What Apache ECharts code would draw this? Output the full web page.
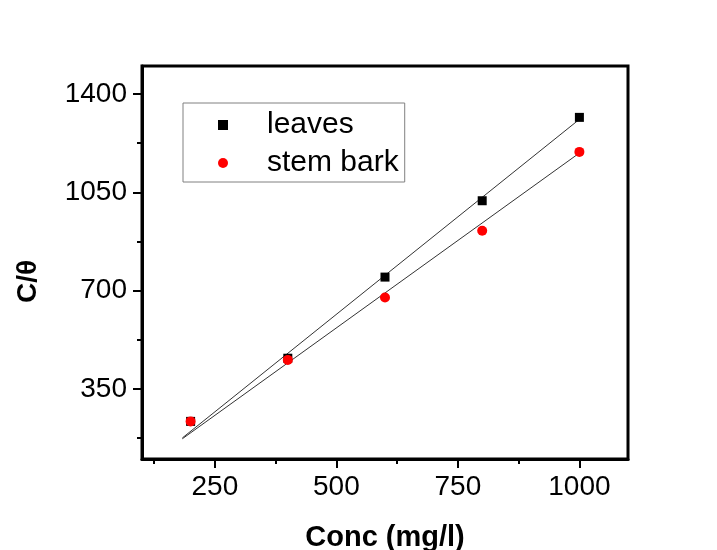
<!DOCTYPE html>
<html><head><meta charset="utf-8">
<script src="https://cdn.jsdelivr.net/npm/echarts@6/dist/echarts.min.js"></script>
<style>html,body{margin:0;padding:0;background:#fff}#c{width:717px;height:550px}</style>
</head><body><div id="c"></div>
<script>
const concentrations = [200, 400, 600, 800, 1000];
const leavesValues = [234, 459, 748, 1020, 1317];
const stemBarkValues = [234, 453, 675, 913, 1194];
const leavesFitX = [183, 1000];
const leavesFitY = [175, 1310];
const stemFitX = [183, 1000];
const stemFitY = [172, 1190];
const xMajorTicks = [250, 500, 750, 1000];
const xMinorTicks = [125, 375, 625, 875];
const yMajorTicks = [350, 700, 1050, 1400];
const yMinorTicks = [175, 525, 875, 1225];

const FONT = 'Liberation Sans, Arial, sans-serif';
const chart = echarts.init(document.getElementById('c'));
const pairs = (xs, ys) => xs.map((x, i) => [x, ys[i]]);
const plain = v => String(v);

const gridBox = {left: 142, right: 89, top: 66, bottom: 91, containLabel: false, outerBoundsMode: 'none'};
const tickStyle = {color: '#000', width: 2};

chart.setOption({
  animation: false,
  backgroundColor: '#fff',
  grid: [
    Object.assign({show: true, borderColor: '#000', borderWidth: 3, backgroundColor: 'transparent'}, gridBox),
    Object.assign({}, gridBox)
  ],
  xAxis: [
    {
      gridIndex: 0, type: 'value', min: 100, max: 1100, position: 'bottom',
      axisLine: {show: true, onZero: false, lineStyle: {color: '#000', width: 3}},
      axisTick: {show: true, customValues: xMajorTicks, length: 9, lineStyle: tickStyle},
      axisLabel: {customValues: xMajorTicks, formatter: plain, color: '#000', fontSize: 28, fontFamily: FONT, margin: 14},
      splitLine: {show: false},
      name: 'Conc (mg/l)', nameLocation: 'middle', nameGap: 64,
      nameTextStyle: {fontWeight: 'bold', fontSize: 29, color: '#000', fontFamily: FONT}
    },
    {
      gridIndex: 1, type: 'value', min: 100, max: 1100, position: 'bottom',
      axisLine: {show: true, onZero: false, lineStyle: {color: 'rgba(0,0,0,0)', width: 1}},
      axisTick: {show: true, customValues: xMinorTicks, length: 5, lineStyle: tickStyle},
      axisLabel: {show: false},
      splitLine: {show: false}
    }
  ],
  yAxis: [
    {
      gridIndex: 0, type: 'value', min: 100, max: 1500, position: 'left',
      axisLine: {show: true, onZero: false, lineStyle: {color: '#000', width: 3}},
      axisTick: {show: true, customValues: yMajorTicks, length: 9, lineStyle: tickStyle},
      axisLabel: {customValues: yMajorTicks, formatter: plain, color: '#000', fontSize: 28, fontFamily: FONT, margin: 15},
      splitLine: {show: false},
      name: 'C/θ', nameLocation: 'middle', nameGap: 100,
      nameTextStyle: {fontWeight: 'bold', fontSize: 28, color: '#000', fontFamily: FONT, padding: [0, 38, 0, 0]}
    },
    {
      gridIndex: 1, type: 'value', min: 100, max: 1500, position: 'left',
      axisLine: {show: true, onZero: false, lineStyle: {color: 'rgba(0,0,0,0)', width: 1}},
      axisTick: {show: true, customValues: yMinorTicks, length: 5, lineStyle: tickStyle},
      axisLabel: {show: false},
      splitLine: {show: false}
    }
  ],
  legend: {
    left: 183, top: 103, orient: 'vertical',
    data: [{name: 'leaves', icon: 'rect'}, {name: 'stem bark', icon: 'circle'}],
    itemWidth: 10, itemHeight: 10, itemGap: 8,
    padding: [7, 6, 4, 35],
    borderColor: '#808080', borderWidth: 1,
    textStyle: {fontSize: 30, color: '#000', fontFamily: FONT, padding: [0, 0, 0, 34]}
  },
  series: [
    {
      name: 'leaves fit', type: 'line', xAxisIndex: 0, yAxisIndex: 0,
      data: pairs(leavesFitX, leavesFitY), symbol: 'none', silent: true, z: 1,
      lineStyle: {color: '#333', width: 1}
    },
    {
      name: 'stem bark fit', type: 'line', xAxisIndex: 0, yAxisIndex: 0,
      data: pairs(stemFitX, stemFitY), symbol: 'none', silent: true, z: 1,
      lineStyle: {color: '#333', width: 1}
    },
    {
      name: 'leaves', type: 'scatter', xAxisIndex: 0, yAxisIndex: 0,
      data: pairs(concentrations, leavesValues), symbol: 'rect', symbolSize: 9, z: 3,
      itemStyle: {color: '#000', opacity: 1}
    },
    {
      name: 'stem bark', type: 'scatter', xAxisIndex: 0, yAxisIndex: 0,
      data: pairs(concentrations, stemBarkValues), symbol: 'circle', symbolSize: 10, z: 4,
      itemStyle: {color: '#ff0000', opacity: 1}
    }
  ]
});
</script>
</body></html>
